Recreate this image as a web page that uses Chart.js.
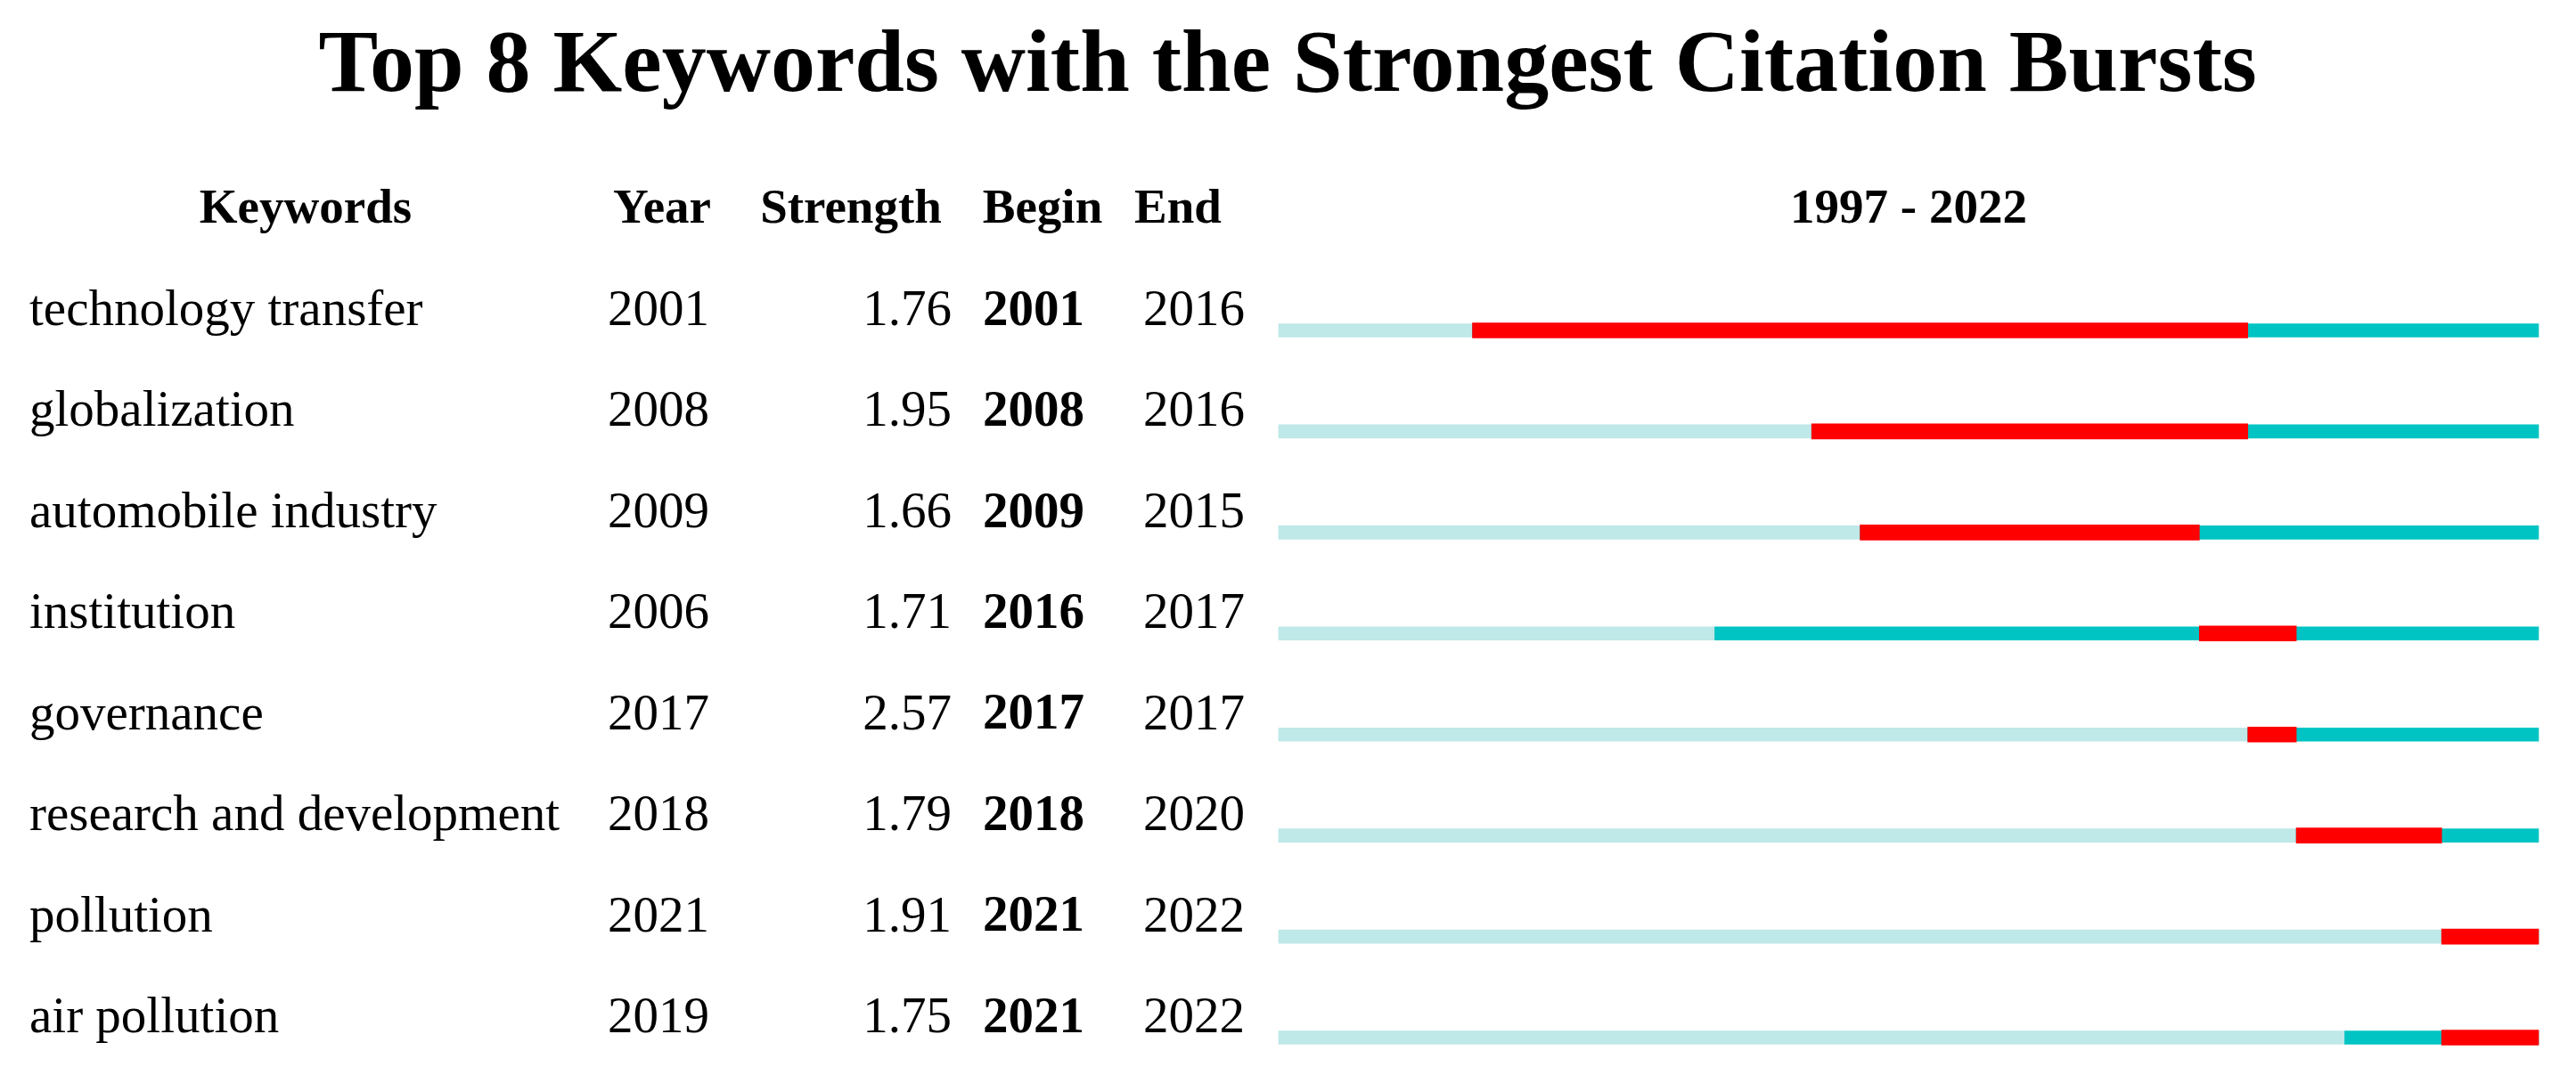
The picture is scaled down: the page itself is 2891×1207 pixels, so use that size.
<!DOCTYPE html>
<html><head><meta charset="utf-8">
<script src="https://cdn.jsdelivr.net/npm/chart.js@4/dist/chart.umd.min.js"></script>
<style>html,body{margin:0;padding:0;background:#fff}canvas{display:block}</style>
</head><body>
<canvas id="c" width="2891" height="1207"></canvas>
<script>
const keywords = ["technology transfer","globalization","automobile industry","institution","governance","research and development","pollution","air pollution"];
const years = [2001,2008,2009,2006,2017,2018,2021,2019];
const strengths = ["1.76","1.95","1.66","1.71","2.57","1.79","1.91","1.75"];
const begins = [2001,2008,2009,2016,2017,2018,2021,2021];
const ends = [2016,2016,2015,2017,2017,2020,2022,2022];
const startYear = 1997, endYear = 2022;

const FONT = "'Liberation Serif','Times New Roman',serif";
const textPlugin = {
  id: 'texts',
  afterDraw(chart) {
    const ctx = chart.ctx, y = chart.scales.y;
    ctx.save();
    ctx.fillStyle = '#000';
    ctx.textBaseline = 'middle';
    ctx.font = `bold 100px ${FONT}`;
    ctx.textAlign = 'center';
    ctx.fillText('Top 8 Keywords with the Strongest Citation Bursts', 1445, 76);
    ctx.font = `bold 55px ${FONT}`;
    ctx.fillText('Keywords', 343, 236);
    ctx.fillText('Year', 743, 236);
    ctx.fillText('Strength', 955, 236);
    ctx.fillText('Begin', 1170, 236);
    ctx.fillText('End', 1322, 236);
    ctx.fillText(startYear + ' - ' + endYear, 2142, 236);
    keywords.forEach((k, i) => {
      const py = y.getPixelForValue(i) - 21;
      ctx.font = `57px ${FONT}`;
      ctx.textAlign = 'left';
      ctx.fillText(k, 33, py);
      ctx.fillText(String(years[i]), 682, py);
      ctx.fillText(String(ends[i]), 1283, py);
      ctx.textAlign = 'right';
      ctx.fillText(strengths[i], 1068, py);
      ctx.textAlign = 'left';
      ctx.font = `bold 57px ${FONT}`;
      ctx.fillText(String(begins[i]), 1103, py);
    });
    ctx.restore();
  }
};

new Chart(document.getElementById('c'), {
  type: 'bar',
  data: {
    labels: keywords,
    datasets: [
      { data: years.map(v => [startYear, v]), backgroundColor: '#bfe8e8', barThickness: 15, clip: false, grouped: false, order: 2 },
      { data: years.map(v => [v, endYear + 1]), backgroundColor: '#00c4c4', barThickness: 15, clip: false, grouped: false, order: 1 },
      { data: begins.map((b, i) => [b, ends[i] + 1]), backgroundColor: '#ff0000', barThickness: 17, clip: false, grouped: false, order: 0 }
    ]
  },
  options: {
    indexAxis: 'y',
    responsive: false,
    animation: false,
    layout: { padding: { left: 1435, right: 42, top: 371, bottom: 42 } },
    plugins: { legend: { display: false }, tooltip: { enabled: false } },
    scales: {
      x: { type: 'linear', min: startYear, max: endYear + 1, display: false },
      y: { type: 'category', offset: false, display: false, grid: { display: false } }
    }
  },
  plugins: [textPlugin]
});
</script>
</body></html>
